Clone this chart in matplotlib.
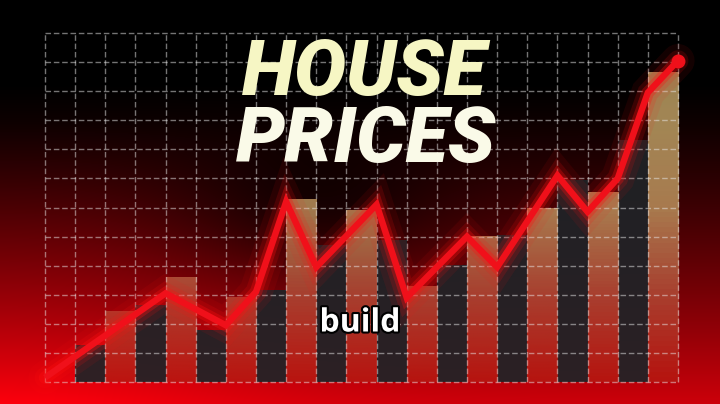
import matplotlib
matplotlib.use('Agg')
import matplotlib.pyplot as plt
import matplotlib.patheffects as pe
from matplotlib.colors import LinearSegmentedColormap
import numpy as np

# chart values (grid units: 21 columns x 12 rows)
dark_x = [1.5, 3.5, 5.5, 7.5, 9.5, 11.5, 13.5, 15.5, 17.5, 19.5]
dark_h = [1.27, 2.65, 1.79, 3.16, 4.71, 4.88, 4.02, 5.05, 6.95, 8.32]
light_x = [2.5, 4.5, 6.5, 8.5, 10.5, 12.5, 14.5, 16.5, 18.5, 20.5]
light_h = [2.41, 3.61, 2.89, 6.26, 5.91, 3.30, 4.99, 5.98, 6.53, 10.63]
line_x = [0, 4, 6, 7, 8, 9, 11, 12, 14, 15, 17, 18, 19, 20, 21]
line_y = [0.15, 3.05, 1.95, 3.1, 6.2, 3.95, 6.1, 2.9, 5.0, 3.95, 7.1, 5.85, 7.0, 9.95, 11.05]
title_lines = ['HOUSE', 'PRICES']
caption = 'build'

W, H = 720, 404
fig = plt.figure(figsize=(W / 100, H / 100), dpi=100)

# background: black top fading into red at the bottom
bg = fig.add_axes([0, 0, 1, 1])
yy, xx = np.mgrid[0:H, 0:W]
t = np.clip((yy / H - 0.2) / 0.8, 0, 1)
red = 205 * t ** 1.3
red += 70 * np.exp(-(xx / 260.0) ** 2) * np.clip(yy / H - 0.3, 0, 1)
red *= 1 - 0.65 * np.exp(-((xx - 320) ** 2 / 130.0 ** 2 + (yy - 195) ** 2 / 75.0 ** 2))
red = np.clip(red, 0, 255)
img = np.dstack([red, red * 0.0, red * 0.05]) / 255.0
bg.imshow(img, aspect='auto', extent=[0, W, H, 0])
bg.set_xlim(0, W)
bg.set_ylim(H, 0)
bg.axis('off')

# chart area
ax = fig.add_axes([45 / W, 1 - 382 / H, (678 - 45) / W, (382 - 33) / H])
ax.set_xlim(0, 21)
ax.set_ylim(0, 12)
ax.patch.set_alpha(0)
ax.axis('off')

# dark bars
ax.bar(dark_x, dark_h, width=1.0, color='#1f2327', alpha=0.92, zorder=2)

# light bars with a tan -> red vertical fade
tan_cmap = LinearSegmentedColormap.from_list('tan', ['#b51a12', '#b5503a', '#c49a62', '#c9a96b', '#c2a266'])
for x, h in zip(light_x, light_h):
    grad = np.linspace(0, h, 60)[:, None]
    ax.imshow(grad, cmap=tan_cmap, vmin=0, vmax=12, origin='lower', aspect='auto',
              extent=[x - 0.5, x + 0.5, 0, h], alpha=0.8, zorder=2)
ax.set_xlim(0, 21)
ax.set_ylim(0, 12)

# dashed grid
for gx in range(22):
    ax.axvline(gx, color='#e8e8e8', alpha=0.5, lw=1.0, ls=(0, (4, 2)), zorder=3, clip_on=False)
for gy in range(13):
    ax.axhline(gy, color='#e8e8e8', alpha=0.5, lw=1.0, ls=(0, (4, 2)), zorder=3, clip_on=False)

# red line with glow
for lw, a in [(24, 0.08), (15, 0.15), (9, 0.3)]:
    ax.plot(line_x, line_y, color='#ff1010', lw=lw, alpha=a, solid_capstyle='round',
            solid_joinstyle='miter', zorder=4, clip_on=False)
ax.plot(line_x, line_y, color='#f0101a', lw=4.6, solid_capstyle='butt',
        solid_joinstyle='miter', zorder=5, clip_on=False)
ax.plot(line_x[-1:], line_y[-1:], 'o', color='#f0101a', ms=9, zorder=6, clip_on=False)

# title
fig.text(364 / W, 1 - 74 / H, title_lines[0], ha='center', va='center', color='#f6f6c4',
         fontsize=56, family='Roboto', weight='black', style='italic', zorder=10)
fig.text(366 / W, 1 - 141 / H, title_lines[1], ha='center', va='center', color='#fafae8',
         fontsize=56, family='Roboto', weight='black', style='italic', zorder=10)

# caption
fig.text(360 / W, 1 - 323 / H, caption, ha='center', va='center', color='white',
         fontsize=23, family='Open Sans', weight='bold', zorder=10,
         path_effects=[pe.withStroke(linewidth=3, foreground='black')])

fig.savefig('out.png', dpi=100)
